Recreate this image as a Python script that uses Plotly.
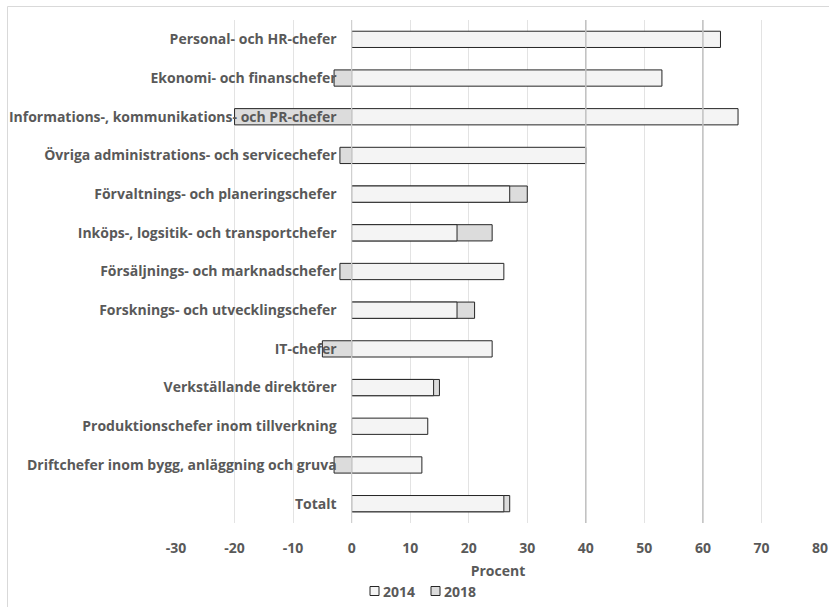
import plotly.graph_objects as go

categories = [
    "Personal- och HR-chefer",
    "Ekonomi- och finanschefer",
    "Informations-, kommunikations- och PR-chefer",
    "Övriga administrations- och servicechefer",
    "Förvaltnings- och planeringschefer",
    "Inköps-, logsitik- och transportchefer",
    "Försäljnings- och marknadschefer",
    "Forsknings- och utvecklingschefer",
    "IT-chefer",
    "Verkställande direktörer",
    "Produktionschefer inom tillverkning",
    "Driftchefer inom bygg, anläggning och gruva",
    "Totalt",
]
values_2014 = [63, 53, 66, 40, 27, 18, 26, 18, 24, 14, 13, 12, 26]
values_2018 = [None, -3, -20, -2, 30, 24, -2, 21, -5, 15, None, -3, 27]
x_ticks = [-30, -20, -10, 0, 10, 20, 30, 40, 50, 60, 70, 80]
x_ticktext = ["-30", "-20", "-10", "0", "10", "20", "30", "40", "50", "60", "70", "80"]
ref_lines = [40, 60]

FONT = "Open Sans"
FS = 14
GREY = "#595959"
C2014 = "#f4f4f4"
C2018 = "#dcdcdc"
EDGE = "#262626"

fig = go.Figure()
fig.add_trace(go.Bar(
    y=categories, x=values_2018, orientation="h", name="2018",
    marker=dict(color=C2018, line=dict(color=EDGE, width=1)),
    width=0.42, showlegend=False,
))
fig.add_trace(go.Bar(
    y=categories, x=values_2014, orientation="h", name="2014",
    marker=dict(color=C2014, line=dict(color=EDGE, width=1)),
    width=0.42, showlegend=False,
))

for v in ref_lines:
    fig.add_shape(type="line", xref="x", yref="paper", x0=v, x1=v, y0=0, y1=1,
                  line=dict(color="#c0c0c0", width=1.5), layer="above")
# vertical axis line at zero, drawn over the bars
fig.add_shape(type="line", xref="x", yref="paper", x0=0, x1=0, y0=0, y1=1,
              line=dict(color="#d0d0d0", width=1.2), layer="above")

W, H = 829, 607
ML, MR, MT, MB = 176, 9, 20, 84
PW, PH = W - ML - MR, H - MT - MB


def px(x):
    return (x - ML) / PW


def py(y):
    return (H - MB - y) / PH


# chart frame
fig.add_shape(type="rect", xref="paper", yref="paper",
              x0=px(7.5), x1=px(845), y0=py(625), y1=py(6.5),
              line=dict(color="#d9d9d9", width=1), fillcolor="rgba(0,0,0,0)")

# manual legend
legend_items = [("2014", C2014, 370), ("2018", C2018, 431)]
for name, col, lx in legend_items:
    fig.add_shape(type="rect", xref="paper", yref="paper",
                  x0=px(lx), x1=px(lx + 9), y0=py(595.5), y1=py(586.5),
                  line=dict(color=EDGE, width=1), fillcolor=col)
    fig.add_annotation(xref="paper", yref="paper", x=px(lx + 11), y=py(591),
                       xanchor="left", yanchor="middle", text=name, showarrow=False,
                       font=dict(family=FONT, size=FS, color=GREY, weight="bold"))

fig.update_layout(
    width=W, height=H,
    margin=dict(l=ML, r=MR, t=MT, b=MB, autoexpand=False),
    barmode="overlay",
    plot_bgcolor="white", paper_bgcolor="white",
    font=dict(family=FONT, size=FS, color=GREY),
    showlegend=False,
    xaxis=dict(range=[-30, 80], tickvals=x_ticks, ticktext=x_ticktext,
               showgrid=True, gridcolor="#e3e3e3", automargin=False,
               gridwidth=1, zeroline=False, showline=False, ticks="",
               tickfont=dict(family=FONT, size=FS, color=GREY, weight="bold"),
               ticklabelstandoff=15,
               title=dict(text="Procent", standoff=10,
                          font=dict(family=FONT, size=FS, color=GREY, weight="bold")),
               fixedrange=True),
    yaxis=dict(categoryorder="array", categoryarray=categories, autorange="reversed",
               anchor="free", position=30/110, showgrid=False, zeroline=False,
               automargin=False,
               showline=False, ticks="", ticklabelstandoff=15,
               tickfont=dict(family=FONT, size=FS, color=GREY, weight="bold"),
               fixedrange=True),
)

fig.write_html(
    "out.html",
    config={"displayModeBar": False},
    post_script="document.body.style.margin='0';"
                "document.documentElement.style.overflow='hidden';",
)
